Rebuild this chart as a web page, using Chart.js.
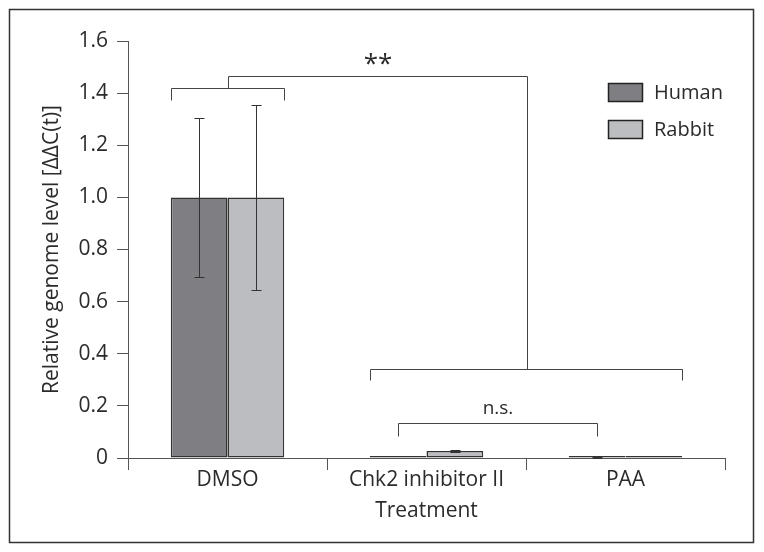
<!DOCTYPE html>
<html>
<head>
<meta charset="utf-8">
<script src="https://cdn.jsdelivr.net/npm/chart.js@4.4.1/dist/chart.umd.min.js"></script>
<style>
  html, body { margin: 0; padding: 0; background: #fff; }
  canvas { display: block; }
</style>
</head>
<body>
<canvas id="genome-chart" width="764" height="552"></canvas>
<script>
// Data
const treatments = ["DMSO", "Chk2 inhibitor II", "PAA"];
const humanLevel = [1.0, 0.002, 0.002];
const rabbitLevel = [1.0, 0.027, 0.001];
const humanError = [0.305, 0, 0.002];
const rabbitError = [0.355, 0.003, 0];

// Significance brackets (y levels in data units)
const dmsoBracket = { level: 1.42, leg: 1.374 };
const lowerBracket = { level: 0.342, leg: 0.299 };
const connectorTop = 1.466;
const nsBracket = { level: 0.134, leg: 0.084 };
const starLabel = { text: "**", level: 1.527 };
const nsLabel = { text: "n.s.", level: 0.19 };

const FONT = "'Open Sans', 'Noto Sans', sans-serif";
const TEXT = "#2b2b2b";
const AXIS = "#555";

// Draws frame, error bars, brackets and legend
const annotate = {
    id: "annotate",
    beforeDraw(chart) {
        const ctx = chart.ctx;
        ctx.save();
        ctx.fillStyle = "#fff";
        ctx.fillRect(0, 0, chart.width, chart.height);
        ctx.strokeStyle = "#333";
        ctx.lineWidth = 1.5;
        ctx.strokeRect(9.5, 9.5, 744, 533);
        ctx.restore();
    },
    afterDatasetsDraw(chart) {
        const ctx = chart.ctx;
        const y = chart.scales.y;
        const bar = (ds, i) => chart.getDatasetMeta(ds).data[i];
        const leftOf = (b) => b.x - b.width / 2;
        const rightOf = (b) => b.x + b.width / 2;

        ctx.save();
        ctx.strokeStyle = "#333";
        ctx.lineWidth = 1;

        // error bars
        [humanError, rabbitError].forEach((errs, ds) => {
            const vals = chart.data.datasets[ds].data;
            errs.forEach((e, i) => {
                if (!e) return;
                const x = Math.round(bar(ds, i).x) + 0.5;
                const top = Math.round(y.getPixelForValue(vals[i] + e)) + 0.5;
                const bot = Math.round(y.getPixelForValue(Math.max(0, vals[i] - e))) + 0.5;
                ctx.beginPath();
                ctx.moveTo(x, top); ctx.lineTo(x, bot);
                ctx.moveTo(x - 5, top); ctx.lineTo(x + 5, top);
                ctx.moveTo(x - 5, bot); ctx.lineTo(x + 5, bot);
                ctx.stroke();
            });
        });

        const py = (v) => Math.round(y.getPixelForValue(v)) + 0.5;
        const bracket = (x1, x2, b) => {
            ctx.beginPath();
            ctx.moveTo(x1, py(b.leg));
            ctx.lineTo(x1, py(b.level));
            ctx.lineTo(x2, py(b.level));
            ctx.lineTo(x2, py(b.leg));
            ctx.stroke();
        };

        ctx.strokeStyle = "#444";
        const d1 = Math.round(leftOf(bar(0, 0))) + 0.5, d2 = Math.round(rightOf(bar(1, 0))) + 0.5;
        bracket(d1, d2, dmsoBracket);
        const l1 = Math.round(leftOf(bar(0, 1))) + 0.5, l2 = Math.round(rightOf(bar(1, 2))) + 0.5;
        bracket(l1, l2, lowerBracket);
        const c1 = Math.round((d1 + d2) / 2) + 0.5, c2 = Math.round((l1 + l2) / 2) + 0.5;
        ctx.beginPath();
        ctx.moveTo(c1, py(dmsoBracket.level));
        ctx.lineTo(c1, py(connectorTop));
        ctx.lineTo(c2, py(connectorTop));
        ctx.lineTo(c2, py(lowerBracket.level));
        ctx.stroke();
        const n1 = Math.round(bar(0, 1).x) + 0.5, n2 = Math.round(bar(0, 2).x) + 0.5;
        bracket(n1, n2, nsBracket);

        ctx.fillStyle = TEXT;
        ctx.textAlign = "center";
        ctx.textBaseline = "middle";
        ctx.font = "26px " + FONT;
        ctx.fillText(starLabel.text, (c1 + c2) / 2, y.getPixelForValue(starLabel.level) + 5);
        ctx.font = "19px " + FONT;
        ctx.fillText(nsLabel.text, (n1 + n2) / 2, y.getPixelForValue(nsLabel.level));

        // legend
        ctx.textAlign = "left";
        ctx.font = "20px " + FONT;
        chart.data.datasets.forEach((ds, i) => {
            const top = 83 + i * 37;
            ctx.fillStyle = ds.backgroundColor;
            ctx.fillRect(608, top, 35, 19);
            ctx.strokeStyle = "#222";
            ctx.lineWidth = 1.5;
            ctx.strokeRect(608.5, top + 0.5, 34, 18);
            ctx.fillStyle = TEXT;
            ctx.fillText(ds.label, 654, top + 10);
        });
        ctx.restore();
    }
};

new Chart(document.getElementById("genome-chart"), {
    type: "bar",
    data: {
        labels: treatments,
        datasets: [
            { label: "Human", data: humanLevel, backgroundColor: "#7f7f83" },
            { label: "Rabbit", data: rabbitLevel, backgroundColor: "#bcbdc0" }
        ]
    },
    options: {
        responsive: false,
        animation: false,
        devicePixelRatio: 1,
        layout: { padding: { left: 0, top: 41, right: 39, bottom: 0 } },
        datasets: {
            bar: {
                categoryPercentage: 0.57,
                barPercentage: 1.0,
                borderColor: "#333",
                borderWidth: 1.5,
                borderSkipped: false,
                minBarLength: 2
            }
        },
        plugins: {
            legend: { display: false },
            tooltip: { enabled: false }
        },
        scales: {
            x: {
                afterFit: (scale) => { scale.height = 94; },
                grid: { display: true, drawOnChartArea: false, offset: true, tickLength: 12, color: AXIS, lineWidth: 1 },
                border: { display: true, color: AXIS, width: 1 },
                ticks: { color: TEXT, font: { family: FONT, size: 21 }, padding: -3 },
                title: {
                    display: true, text: "Treatment", color: TEXT,
                    font: { family: FONT, size: 21 }, padding: { top: 0, bottom: 28 }
                }
            },
            y: {
                min: 0,
                max: 1.6,
                afterFit: (scale) => { scale.width = 128; },
                grid: { display: true, drawOnChartArea: false, tickLength: 11, color: AXIS, lineWidth: 1 },
                border: { display: true, color: AXIS, width: 1 },
                ticks: {
                    stepSize: 0.2,
                    color: TEXT,
                    padding: 9,
                    font: { family: FONT, size: 21 },
                    callback: (v) => (v === 0 ? "0" : v.toFixed(1))
                },
                title: {
                    display: true, text: "Relative genome level [ΔΔC(t)]", color: TEXT,
                    font: { family: FONT, size: 21 }, padding: { top: 39, bottom: 0 }
                }
            }
        }
    },
    plugins: [annotate]
});
</script>
</body>
</html>
